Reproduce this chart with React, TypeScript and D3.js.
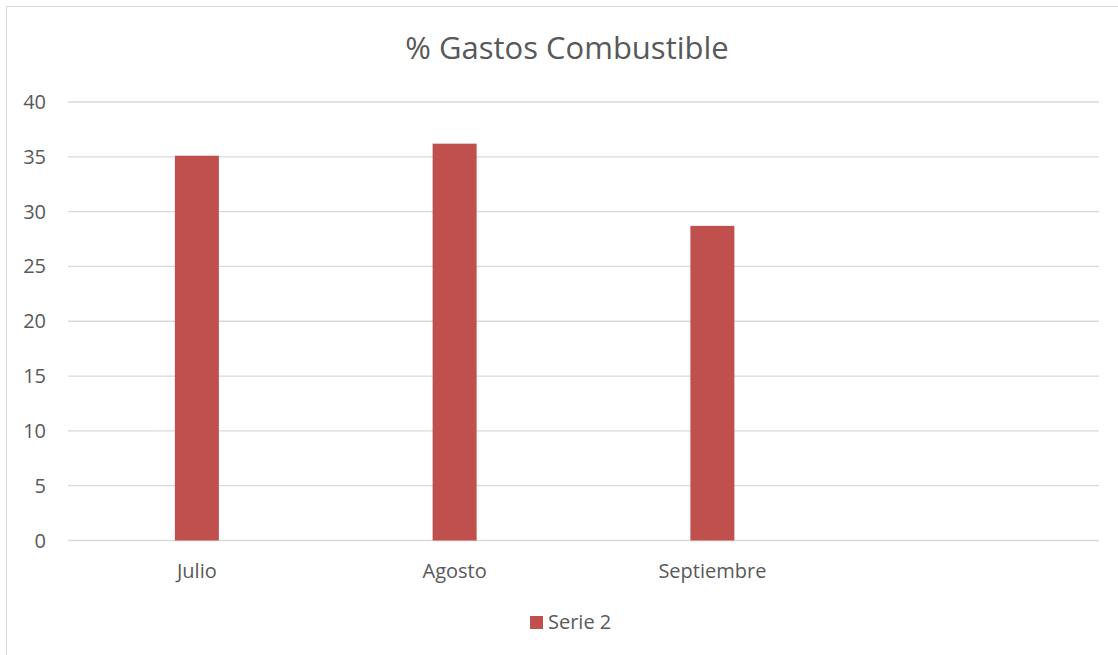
import React, { useEffect, useRef } from 'react';
import * as d3 from 'd3';

const categories = ['Julio', 'Agosto', 'Septiembre', ''];
const serie2 = [35.1, 36.2, 28.7, null];
const yTicks = [0, 5, 10, 15, 20, 25, 30, 35, 40];
const title = '% Gastos Combustible';
const seriesName = 'Serie 2';

export default function App() {
    const ref = useRef<SVGSVGElement>(null);

    useEffect(() => {
        if (!ref.current) return;
        const W = 1118, H = 655;
        const plot = { left: 68, right: 1099, top: 102, bottom: 540.5 };
        const font = '"Open Sans", sans-serif';
        const textColor = '#595959';

        const svg = d3.select(ref.current);
        svg.selectAll('*').remove();

        // chart frame
        svg.append('rect')
            .attr('x', 6.5).attr('y', 6.5)
            .attr('width', W).attr('height', H)
            .attr('fill', '#fff')
            .attr('stroke', '#d9d9d9');

        const x = d3.scaleBand<string>()
            .domain(categories.map((c, i) => i + ':' + c))
            .range([plot.left, plot.right]);
        const y = d3.scaleLinear().domain([0, 40]).range([plot.bottom, plot.top]);

        svg.append('text')
            .attr('x', 567).attr('y', 59)
            .attr('text-anchor', 'middle')
            .style('font-family', font).style('font-size', '31px')
            .attr('fill', textColor)
            .text(title);

        // gridlines
        svg.append('g').selectAll('line').data(yTicks).enter().append('line')
            .attr('x1', plot.left).attr('x2', plot.right)
            .attr('y1', d => y(d)).attr('y2', d => y(d))
            .attr('stroke', '#d9d9d9').attr('stroke-width', 1.3);

        svg.append('g').selectAll('text').data(yTicks).enter().append('text')
            .attr('x', 46).attr('y', d => y(d))
            .attr('dy', '0.35em')
            .attr('text-anchor', 'end')
            .style('font-family', font).style('font-size', '20px')
            .attr('fill', textColor)
            .text(d => d);

        const barW = 44;
        const keys = x.domain();
        svg.append('g').selectAll('rect').data(serie2.map((v, i) => ({ k: keys[i], v })).filter(d => d.v != null))
            .enter().append('rect')
            .attr('x', d => x(d.k)! + x.bandwidth() / 2 - barW / 2)
            .attr('width', barW)
            .attr('y', d => y(d.v as number))
            .attr('height', d => y(0) - y(d.v as number))
            .attr('fill', '#c0504d');

        svg.append('g').selectAll('text').data(keys).enter().append('text')
            .attr('x', d => x(d)! + x.bandwidth() / 2)
            .attr('y', 578)
            .attr('text-anchor', 'middle')
            .style('font-family', font).style('font-size', '20px')
            .attr('fill', textColor)
            .text(d => d.split(':')[1]);

        // legend
        const lg = svg.append('g').attr('transform', 'translate(530,616)');
        lg.append('rect').attr('width', 13).attr('height', 13).attr('fill', '#c0504d');
        lg.append('text').attr('x', 18).attr('y', 13)
            .style('font-family', font).style('font-size', '20px')
            .attr('fill', textColor)
            .text(seriesName);
    }, []);

    return (
        <svg ref={ref} width={1118} height={655}
            style={{ position: 'absolute', left: 0, top: 0, background: '#fff' }} />
    );
}
